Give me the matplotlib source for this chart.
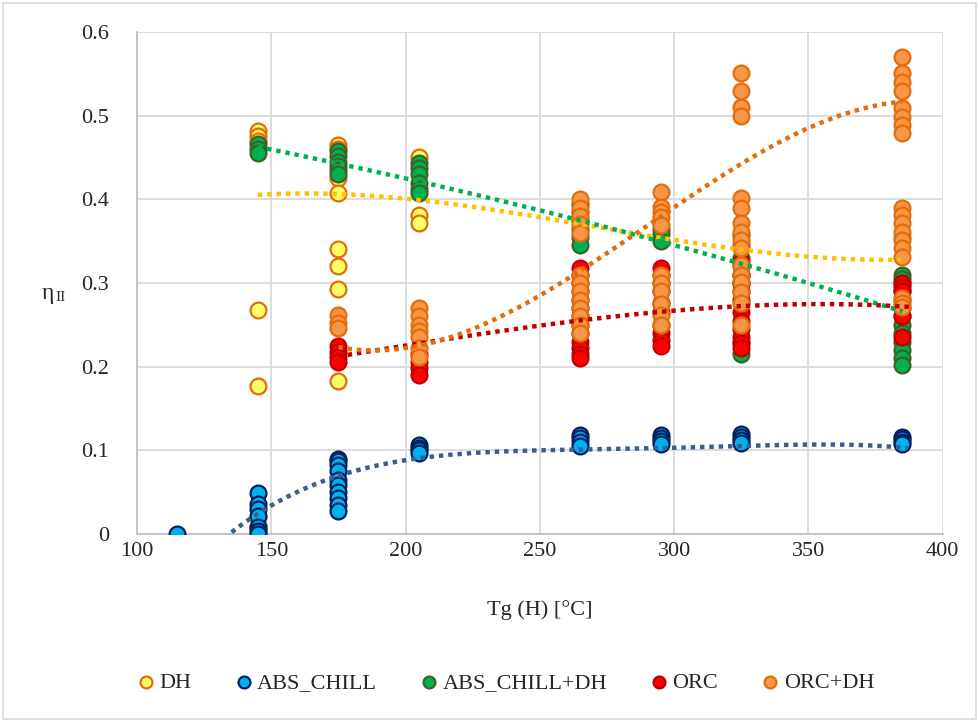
# Second-law efficiency vs. heat source temperature

import numpy as np
import matplotlib.pyplot as plt
from matplotlib.patches import Rectangle

plt.rcParams['font.family'] = ['Liberation Serif', 'DejaVu Serif']

# ── 1. Data ───────────────────────────────────────────────────
dh_x = [145] * 8 + [175] * 8 + [205] * 3 + [385]
dh_y = [0.482, 0.476, 0.470, 0.268, 0.177, 0.020, 0.010, 0.005,
        0.465, 0.460, 0.425, 0.407, 0.341, 0.320, 0.293, 0.183,
        0.450, 0.381, 0.372,
        0.355]

abs_x = [115] + [145] * 7 + [175] * 10 + [205] * 4 + [265] * 4 + [295] * 4 + [325] * 4 + [385] * 4
abs_y = [0.0,
         0.049, 0.036, 0.030, 0.022, 0.008, 0.003, 0.0,
         0.090, 0.087, 0.083, 0.075, 0.065, 0.058, 0.050, 0.043, 0.035, 0.028,
         0.106, 0.103, 0.100, 0.097,
         0.118, 0.115, 0.110, 0.105,
         0.118, 0.115, 0.111, 0.108,
         0.119, 0.116, 0.112, 0.109,
         0.116, 0.113, 0.110, 0.107]

absdh_x = [145] * 3 + [175] * 6 + [205] * 6 + [265] * 6 + [295] * 3 + [325] * 8 + [385] * 13
absdh_y = [0.466, 0.460, 0.455,
           0.458, 0.452, 0.445, 0.440, 0.435, 0.430,
           0.443, 0.438, 0.430, 0.420, 0.412, 0.408,
           0.395, 0.385, 0.375, 0.365, 0.355, 0.345,
           0.365, 0.358, 0.350,
           0.357, 0.345, 0.330, 0.320, 0.310, 0.300, 0.230, 0.215,
           0.310, 0.305, 0.300, 0.290, 0.280, 0.270, 0.260, 0.250, 0.240,
           0.230, 0.220, 0.210, 0.202]

orc_x = [175] * 4 + [205] * 4 + [265] * 13 + [295] * 10 + [325] * 11 + [385] * 5
orc_y = [0.225, 0.218, 0.212, 0.205,
         0.215, 0.205, 0.198, 0.190,
         0.318, 0.310, 0.300, 0.290, 0.280, 0.270, 0.260, 0.250, 0.240,
         0.230, 0.222, 0.215, 0.210,
         0.318, 0.310, 0.300, 0.290, 0.276, 0.265, 0.250, 0.240, 0.232, 0.225,
         0.325, 0.310, 0.300, 0.290, 0.280, 0.265, 0.255, 0.245, 0.235,
         0.228, 0.222,
         0.300, 0.295, 0.290, 0.260, 0.235]

orcdh_x = [175] * 3 + [205] * 7 + [265] * 13 + [295] * 11 + [325] * 16 + [385] * 18
orcdh_y = [0.262, 0.252, 0.246,
           0.270, 0.260, 0.250, 0.243, 0.235, 0.222, 0.212,
           0.400, 0.390, 0.380, 0.370, 0.360,
           0.310, 0.300, 0.290, 0.280, 0.270, 0.260, 0.250, 0.240,
           0.409, 0.391, 0.385, 0.379, 0.369,
           0.310, 0.300, 0.290, 0.275, 0.262, 0.250,
           0.551, 0.530, 0.510, 0.500,
           0.401, 0.390, 0.372, 0.361, 0.351, 0.342,
           0.321, 0.309, 0.301, 0.289, 0.276, 0.250,
           0.570, 0.551, 0.540, 0.530, 0.509, 0.498, 0.489, 0.479,
           0.390, 0.381, 0.372, 0.361, 0.351, 0.342, 0.331,
           0.282, 0.276, 0.271]

# trendline readings (polynomial trendlines in the original)
dh_tr_x = [145, 175, 205, 265, 295, 325, 385]
dh_tr_y = [0.403, 0.411, 0.398, 0.367, 0.354, 0.343, 0.327]
abs_tr_x = [133, 145, 175, 205, 250, 265, 295, 325, 385]
abs_tr_y = [0.0, 0.019, 0.070, 0.094, 0.098, 0.100, 0.103, 0.106, 0.103]
absdh_tr_x = [145, 175, 205, 265, 295, 325, 385]
absdh_tr_y = [0.465, 0.441, 0.419, 0.375, 0.351, 0.324, 0.265]
orc_tr_x = [175, 205, 250, 265, 295, 325, 350, 385]
orc_tr_y = [0.210, 0.233, 0.247, 0.253, 0.265, 0.274, 0.276, 0.271]
orcdh_tr_x = [175, 205, 250, 265, 295, 302, 325, 350, 385]
orcdh_tr_y = [0.218, 0.238, 0.276, 0.312, 0.379, 0.395, 0.450, 0.483, 0.516]

series = [
    ("DH", dh_x, dh_y, "#FFFF66", "#E36C09"),
    ("ABS_CHILL", abs_x, abs_y, "#00B0F0", "#002060"),
    ("ABS_CHILL+DH", absdh_x, absdh_y, "#00B050", "#3B6324"),
    ("ORC", orc_x, orc_y, "#FF0000", "#C00000"),
    ("ORC+DH", orcdh_x, orcdh_y, "#F79646", "#E46C0A"),
]

trends = [
    (dh_tr_x, dh_tr_y, 3, 145, 385, "#FFC000"),
    (abs_tr_x, abs_tr_y, 4, 115, 387, "#3A5F8E"),
    (absdh_tr_x, absdh_tr_y, 2, 145, 385, "#00B050"),
    (orc_tr_x, orc_tr_y, 3, 175, 388, "#C00000"),
    (orcdh_tr_x, orcdh_tr_y, 3, 175, 385, "#E46C0A"),
]

# ── 2. Chart ─────────────────────────────────────────────────
fig = plt.figure(figsize=(9.79, 7.22), dpi=100)
ax = fig.add_axes([0.140, 0.2604, 0.823, 0.6953])

for name, xs, ys, fc, ec in series:
    ax.scatter(xs, ys, s=130, facecolor=fc, edgecolor=ec, linewidth=1.6,
               label=name, zorder=3)

for tx, ty, order, x0, x1, col in trends:
    coef = np.polyfit(tx, ty, order)
    xx = np.linspace(x0, x1, 200)
    ax.plot(xx, np.polyval(coef, xx), color=col, linewidth=3.2,
            linestyle=(0, (1, 1.1)), dash_capstyle="butt", zorder=4)

ax.set_xlim(100, 400)
ax.set_ylim(0, 0.6)
ax.set_xticks(range(100, 401, 50))
ax.set_yticks(np.arange(0, 0.61, 0.1))
ax.set_yticklabels(["0", "0.1", "0.2", "0.3", "0.4", "0.5", "0.6"])
ax.tick_params(length=0, labelsize=16, colors="#262626")
ax.tick_params(axis="y", pad=20)
ax.tick_params(axis="x", pad=6)
ax.grid(True, color="#D9D9D9", linewidth=1.3)
ax.set_axisbelow(True)
for side in ["top", "right"]:
    ax.spines[side].set_visible(False)
for side in ["left", "bottom"]:
    ax.spines[side].set_color("#BFBFBF")
    ax.spines[side].set_linewidth(1.3)

ax.set_xlabel("Tg (H) [°C]", fontsize=16, color="#262626", labelpad=28)
fig.text(0.043, 0.594, "η", fontsize=17, color="#262626", ha="left", va="center")
fig.text(0.057, 0.588, "II", fontsize=11, color="#262626", ha="left", va="center")

leg = fig.legend(loc="center", bbox_to_anchor=(0.516, 0.054), ncol=5,
                 frameon=False, fontsize=16, handletextpad=0.15, handlelength=0.9,
                 columnspacing=1.9, markerscale=0.75)
for t in leg.get_texts():
    t.set_color("#262626")

fig.patches.append(Rectangle((0.003, 0.004), 0.994, 0.992, transform=fig.transFigure,
                             fill=False, edgecolor="#D9D9D9", linewidth=1.2))

fig.savefig("out.png", dpi=100)
